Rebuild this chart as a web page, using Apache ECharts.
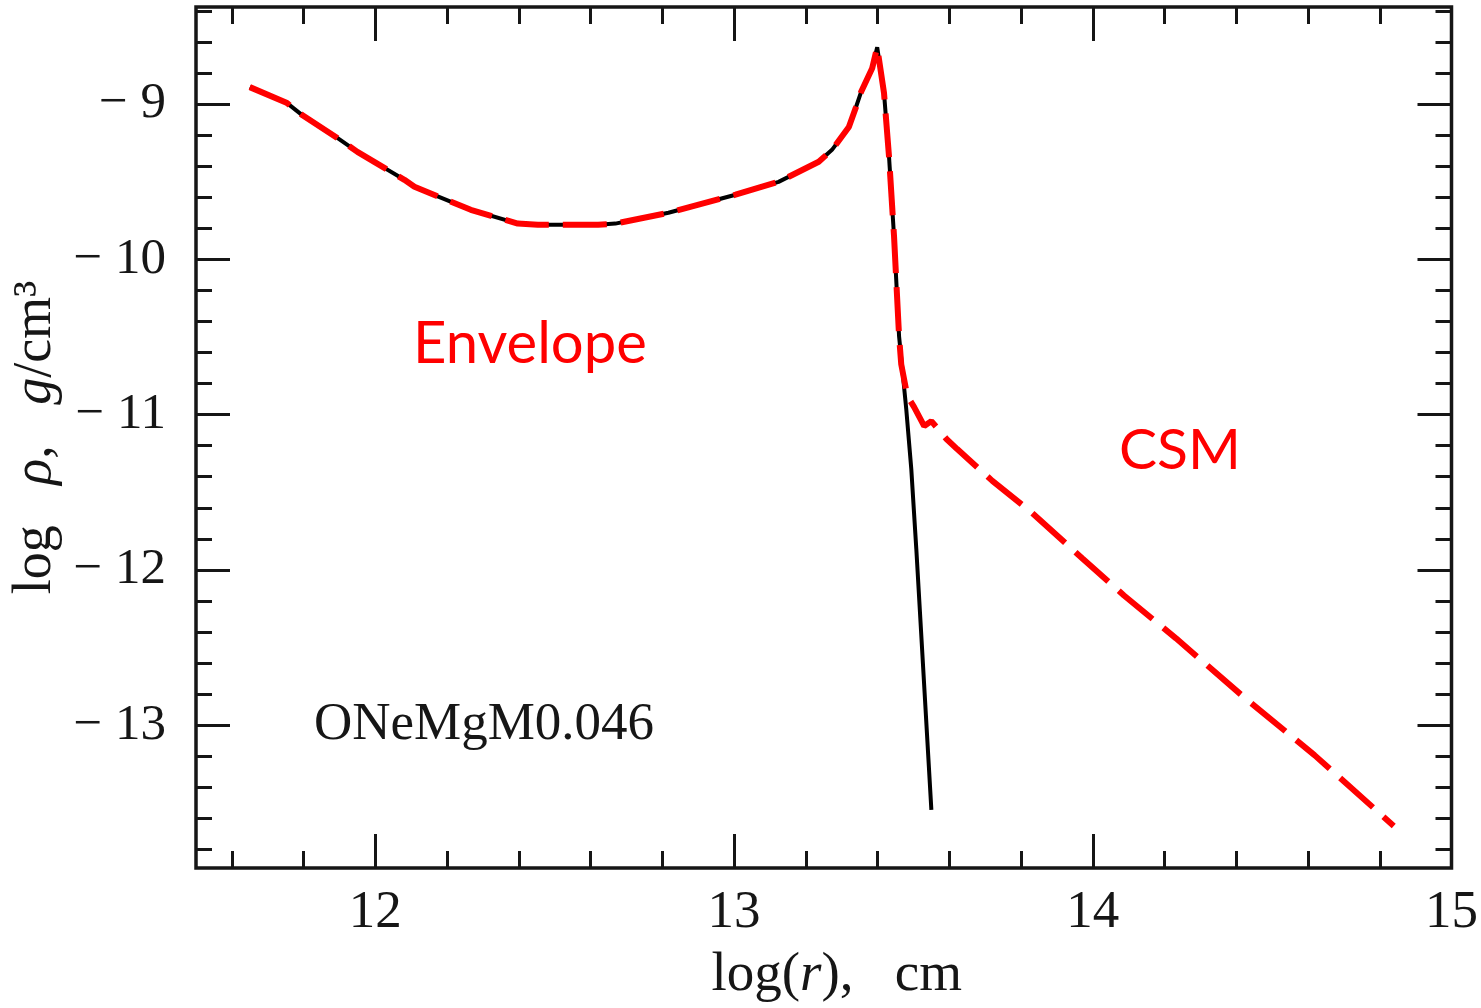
<!DOCTYPE html>
<html>
<head>
<meta charset="utf-8">
<title>ONeMgM0.046 density profile</title>
<script src="https://cdn.jsdelivr.net/npm/echarts@6/dist/echarts.min.js"></script>
<style>
  html, body { margin: 0; padding: 0; background: #fff; }
  #chart { width: 1481px; height: 1008px; }
</style>
</head>
<body>
<div id="chart"></div>
<script>
// Envelope density profile, log(r) [cm] vs log(rho) [g/cm^3]
const envLogR = [11.650, 11.754, 11.796, 11.894, 11.950, 12.081, 12.109, 12.266, 12.397, 12.453,
                 12.621, 12.669, 12.817, 13.004, 13.124, 13.236, 13.273, 13.320, 13.340, 13.354,
                 13.385, 13.399, 13.418, 13.432, 13.446, 13.452, 13.460];
const envLogRho = [-8.891, -8.994, -9.071, -9.218, -9.308, -9.488, -9.533, -9.681, -9.770, -9.777,
                   -9.777, -9.770, -9.700, -9.584, -9.501, -9.372, -9.295, -9.148, -9.019, -8.923,
                   -8.769, -8.634, -8.929, -9.340, -9.854, -10.130, -10.496];

// Bare envelope edge without circumstellar matter (solid black)
const edgeLogR = [13.480, 13.494, 13.508, 13.550];
const edgeLogRho = [-10.965, -11.350, -11.864, -13.546];

// Circumstellar wind attached to the envelope (red dashed)
const csmLogR = [13.466, 13.483, 13.502, 13.530, 13.550, 13.592, 13.622, 13.720, 13.827, 13.972,
                 14.087, 14.232, 14.425, 14.618, 14.839];
const csmLogRho = [-10.676, -10.881, -10.952, -11.074, -11.042, -11.157, -11.222, -11.427, -11.626, -11.928,
                   -12.165, -12.441, -12.827, -13.193, -13.649];

// Axis ticks
const xMajorTicks = [12, 13, 14, 15];
const xMinorTicks = [11.6, 11.8, 12.2, 12.4, 12.6, 12.8, 13.2, 13.4, 13.6, 13.8, 14.2, 14.4, 14.6, 14.8];
const yMajorTicks = [-13, -12, -11, -10, -9];
const yMinorTicks = [-13.8, -13.6, -13.4, -13.2, -12.8, -12.6, -12.4, -12.2, -11.8, -11.6, -11.4, -11.2,
                     -10.8, -10.6, -10.4, -10.2, -9.8, -9.6, -9.4, -9.2, -8.8, -8.6, -8.4];

const X_MIN = 11.5, X_MAX = 15;
const Y_MIN = -13.92, Y_MAX = -8.375;

const pairs = (xs, ys) => xs.map((x, i) => [x, ys[i]]);
const blackData = pairs(envLogR.concat(edgeLogR), envLogRho.concat(edgeLogRho));
const redData = pairs(envLogR.concat(csmLogR), envLogRho.concat(csmLogRho));

const SERIF = '"Liberation Serif", "Times New Roman", serif';
const INK = '#161616';

function xAxisDef(position, ticks, len, labels) {
  return {
    type: 'value', position: position, min: X_MIN, max: X_MAX,
    axisLine: { show: false }, splitLine: { show: false },
    axisTick: { show: true, inside: true, length: len, customValues: ticks,
                lineStyle: { color: INK, width: 3 } },
    axisLabel: labels ? { show: true, customValues: ticks, margin: 19,
                          fontFamily: SERIF, fontSize: 53, color: INK,
                          formatter: v => String(v) } : { show: false }
  };
}
function yAxisDef(position, ticks, len, labels) {
  return {
    type: 'value', position: position, min: Y_MIN, max: Y_MAX,
    axisLine: { show: false }, splitLine: { show: false },
    axisTick: { show: true, inside: true, length: len, customValues: ticks,
                lineStyle: { color: INK, width: 3 } },
    axisLabel: labels ? { show: true, customValues: ticks, margin: 30,
                          fontFamily: SERIF, fontSize: 51, color: INK,
                          formatter: v => (v < 0 ? '\u2212 ' + Math.abs(v) : String(v)) } : { show: false }
  };
}

const xAxes = [
  xAxisDef('bottom', xMajorTicks, 34, true),
  xAxisDef('bottom', xMinorTicks, 17, false),
  xAxisDef('top', xMajorTicks, 34, false),
  xAxisDef('top', xMinorTicks, 17, false)
];
xAxes[0].name = '{a|log(}{i|r}{a|),   cm}';
xAxes[0].nameLocation = 'middle';
xAxes[0].nameGap = 80;
xAxes[0].nameTextStyle = {
  padding: [0, 0, 0, 26],
  rich: {
    a: { fontFamily: SERIF, fontSize: 55, color: INK },
    i: { fontFamily: SERIF, fontSize: 55, color: INK, fontStyle: 'italic' }
  }
};

const yAxes = [
  yAxisDef('left', yMajorTicks, 34, true),
  yAxisDef('left', yMinorTicks, 16, false),
  yAxisDef('right', yMajorTicks, 34, false),
  yAxisDef('right', yMinorTicks, 16, false)
];
yAxes[0].name = '{a|log   }{i|\u03c1}{a|,   }{i|g}{a|/cm\u00b3}';
yAxes[0].nameLocation = 'middle';
yAxes[0].nameGap = 126;
yAxes[0].nameTextStyle = {
  rich: {
    a: { fontFamily: SERIF, fontSize: 54, color: INK },
    i: { fontFamily: SERIF, fontSize: 54, color: INK, fontStyle: 'italic' }
  }
};

const chart = echarts.init(document.getElementById('chart'), null, { renderer: 'canvas' });
chart.setOption({
  animation: false,
  backgroundColor: '#ffffff',
  grid: {
    left: 196, top: 7, right: 28, bottom: 138,
    show: true, borderColor: INK, borderWidth: 3.5, backgroundColor: 'transparent'
  },
  xAxis: xAxes,
  yAxis: yAxes,
  series: [
    {
      name: 'no CSM', type: 'line', xAxisIndex: 0, yAxisIndex: 0,
      data: blackData, showSymbol: false, smooth: false, z: 3,
      lineStyle: { color: '#000000', width: 4 }
    },
    {
      name: 'with CSM', type: 'line', xAxisIndex: 0, yAxisIndex: 0,
      data: redData, showSymbol: false, smooth: false, z: 4,
      lineStyle: { color: '#ff0000', width: 6, type: [44, 14] }
    }
  ],
  graphic: [
    { type: 'text', left: 413, top: 315, z: 10,
      style: { text: 'Envelope', fill: '#ff0000', font: '58px Lato, "Noto Sans", sans-serif' } },
    { type: 'text', left: 1119, top: 422, z: 10,
      style: { text: 'CSM', fill: '#ff0000', font: '57px Lato, "Noto Sans", sans-serif' } },
    { type: 'text', left: 314, top: 699, z: 10,
      style: { text: 'ONeMgM0.046', fill: INK, font: '53px "Liberation Serif", serif' } }
  ]
});
</script>
</body>
</html>
